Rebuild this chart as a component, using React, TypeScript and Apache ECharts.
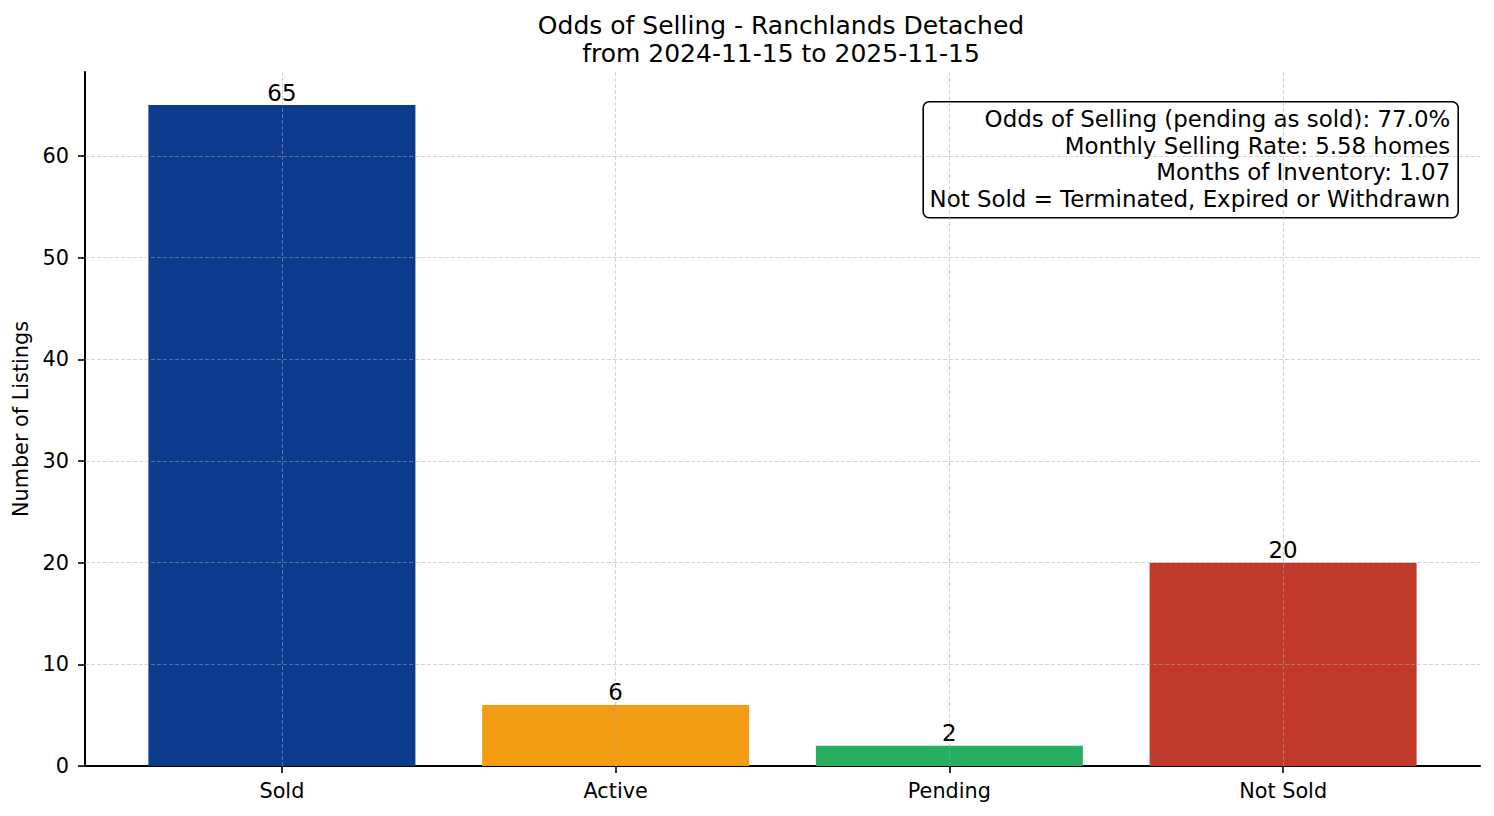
import React, { useEffect, useRef } from 'react'
import * as echarts from 'echarts'

const categories = ['Sold', 'Active', 'Pending', 'Not Sold']
const counts = [65, 6, 2, 20]
const barColors = ['#0c3a8d', '#f39c12', '#27ae60', '#c0392b']
const yTicks = [0, 10, 20, 30, 40, 50, 60]
const xTicks = [0, 1, 2, 3]
const titleLines = ['Odds of Selling - Ranchlands Detached', 'from 2024-11-15 to 2025-11-15']
const noteLines = [
    'Odds of Selling (pending as sold): 77.0%',
    'Monthly Selling Rate: 5.58 homes',
    'Months of Inventory: 1.07',
    'Not Sold = Terminated, Expired or Withdrawn',
]

const FONT = 'DejaVu Sans'
const gridLine = { color: 'rgba(170,170,170,0.5)', width: 1, type: [4, 2] as number[] }

export default function App() {
    const chartRef = useRef<HTMLDivElement>(null)

    useEffect(() => {
        const chart = echarts.init(chartRef.current, null, { renderer: 'svg' })
        const option = {
            animation: false,
            backgroundColor: '#ffffff',
            textStyle: { fontFamily: FONT, color: '#000' },
            title: {
                text: titleLines.join('\n'),
                left: 776,
                textAlign: 'center',
                top: 6,
                textStyle: { fontFamily: FONT, fontSize: 25, fontWeight: 'normal', color: '#000', lineHeight: 28 },
            },
            grid: { left: 85, right: 14, top: 72, bottom: 50, outerBoundsMode: 'none', containLabel: false },
            xAxis: {
                type: 'value',
                min: -0.59,
                max: 3.59,
                splitLine: { show: false },
                axisLine: { show: true, onZero: false, lineStyle: { color: '#000', width: 2 } },
                axisTick: { show: true, customValues: xTicks, length: 7, lineStyle: { color: '#000', width: 1.6 } },
                axisLabel: {
                    customValues: xTicks,
                    formatter: (v: number) => categories[Math.round(v)] ?? '',
                    fontFamily: FONT,
                    fontSize: 20.8,
                    color: '#000',
                    margin: 14,
                },
            },
            yAxis: {
                type: 'value',
                min: 0,
                max: 68.25,
                name: 'Number of Listings',
                nameLocation: 'middle',
                nameGap: 44,
                nameRotate: 90,
                nameTextStyle: { fontFamily: FONT, fontSize: 20.8, color: '#000' },
                splitLine: { show: false },
                axisLine: { show: true, onZero: false, lineStyle: { color: '#000', width: 2 } },
                axisTick: { show: true, customValues: yTicks, length: 7, lineStyle: { color: '#000', width: 1.6 } },
                axisLabel: {
                    customValues: yTicks,
                    fontFamily: FONT,
                    fontSize: 20.8,
                    color: '#000',
                    margin: 16,
                },
            },
            series: [
                {
                    type: 'bar',
                    barWidth: 267,
                    data: counts.map((c, i) => ({ value: [i, c], itemStyle: { color: barColors[i] } })),
                    label: {
                        show: true,
                        position: 'top',
                        distance: 1,
                        formatter: (p: any) => String(p.value[1]),
                        fontFamily: FONT,
                        fontSize: 22.9,
                        color: '#000',
                    },
                    markLine: {
                        silent: true,
                        symbol: 'none',
                        z: 5,
                        label: { show: false },
                        lineStyle: gridLine,
                        data: [
                            ...xTicks.map((x) => ({ xAxis: x })),
                            ...yTicks.filter((y) => y > 0).map((y) => ({ yAxis: y })),
                        ],
                    },
                },
            ],
            graphic: [
                {
                    type: 'group',
                    right: 35,
                    top: 101,
                    z: 10,
                    children: [
                        {
                            type: 'rect',
                            shape: { x: 0, y: 0, width: 535, height: 116, r: 6 },
                            style: { fill: '#fff', stroke: '#000', lineWidth: 1.6 },
                        },
                        {
                            type: 'text',
                            x: 527,
                            y: 4,
                            style: {
                                text: noteLines.join('\n'),
                                align: 'right',
                                verticalAlign: 'top',
                                font: `22.9px "${FONT}"`,
                                lineHeight: 26.5,
                                fill: '#000',
                            },
                        },
                    ],
                },
            ],
        }
        chart.setOption(option as any)
        return () => chart.dispose()
    }, [])

    return <div ref={chartRef} style={{ position: 'fixed', left: 0, top: 0, width: 1494, height: 816 }} />
}
